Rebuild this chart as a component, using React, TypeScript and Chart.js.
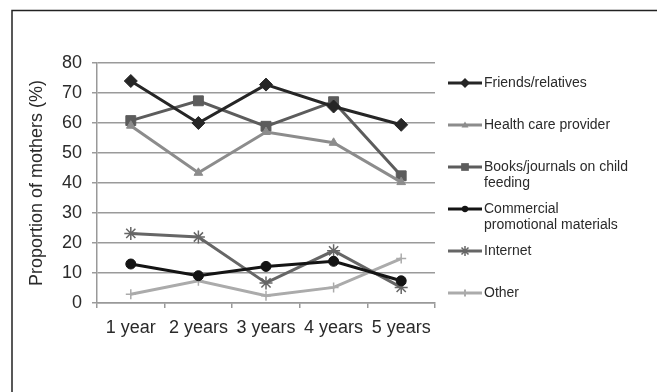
import React, { useEffect, useRef } from "react";
import { Chart, registerables } from "chart.js";

Chart.register(...registerables);

const categories = ["1 year", "2 years", "3 years", "4 years", "5 years"];
const friends = [74, 60, 72.8, 65.5, 59.4];
const healthCare = [59.1, 43.4, 57, 53.4, 40.3];
const books = [60.8, 67.4, 58.9, 67.1, 42.4];
const commercial = [13, 9.1, 12.2, 13.9, 7.4];
const internet = [23.2, 22, 6.7, 17.4, 5.2];
const other = [2.9, 7.4, 2.4, 5.2, 14.8];
const yTicks = [0, 10, 20, 30, 40, 50, 60, 70, 80];

const FONT = "'Liberation Sans', Arial, sans-serif";

const seriesDefs = [
  { label: ["Friends/relatives"], data: friends, color: "#262626", style: "rectRot", radius: 6.5 },
  { label: ["Health care provider"], data: healthCare, color: "#8c8c8c", style: "triangle", radius: 5 },
  { label: ["Books/journals on child", "feeding"], data: books, color: "#5c5c5c", style: "rect", radius: 7 },
  { label: ["Commercial", "promotional materials"], data: commercial, color: "#141414", style: "circle", radius: 5 },
  { label: ["Internet"], data: internet, color: "#666666", style: "star", radius: 6.5 },
  { label: ["Other"], data: other, color: "#ababab", style: "cross", radius: 5 },
];

function drawMarker(ctx: any, style: string, r: number, x: number, y: number, color: string) {
  ctx.save();
  ctx.fillStyle = color;
  ctx.strokeStyle = color;
  ctx.lineWidth = 2;
  ctx.beginPath();
  if (style === "rectRot") {
    ctx.moveTo(x, y - r);
    ctx.lineTo(x + r, y);
    ctx.lineTo(x, y + r);
    ctx.lineTo(x - r, y);
    ctx.closePath();
    ctx.fill();
  } else if (style === "triangle") {
    ctx.moveTo(x, y - r);
    ctx.lineTo(x + r, y + r * 0.7);
    ctx.lineTo(x - r, y + r * 0.7);
    ctx.closePath();
    ctx.fill();
  } else if (style === "rect") {
    const h = r * 0.7;
    ctx.fillRect(x - h, y - h, 2 * h, 2 * h);
  } else if (style === "circle") {
    ctx.arc(x, y, r * 0.9, 0, Math.PI * 2);
    ctx.fill();
  } else if (style === "star") {
    ctx.lineWidth = 1.5;
    ctx.moveTo(x - r, y);
    ctx.lineTo(x + r, y);
    ctx.moveTo(x, y - r);
    ctx.lineTo(x, y + r);
    const d = r * 0.7;
    ctx.moveTo(x - d, y - d);
    ctx.lineTo(x + d, y + d);
    ctx.moveTo(x - d, y + d);
    ctx.lineTo(x + d, y - d);
    ctx.stroke();
  } else {
    ctx.moveTo(x - r, y);
    ctx.lineTo(x + r, y);
    ctx.moveTo(x, y - r);
    ctx.lineTo(x, y + r);
    ctx.stroke();
  }
  ctx.restore();
}

const framePlugin = {
  id: "frameAndLegend",
  afterDraw(chart: any) {
    const ctx = chart.ctx;
    ctx.save();
    ctx.strokeStyle = "#222";
    ctx.lineWidth = 1.5;
    ctx.beginPath();
    ctx.moveTo(657, 10.5);
    ctx.lineTo(12, 10.5);
    ctx.lineTo(12, 392);
    ctx.stroke();
    const x0 = 448;
    const x1 = 482;
    seriesDefs.forEach((s, i) => {
      const y = 83 + i * 42;
      ctx.strokeStyle = s.color;
      ctx.lineWidth = 3;
      ctx.beginPath();
      ctx.moveTo(x0, y);
      ctx.lineTo(x1, y);
      ctx.stroke();
      drawMarker(ctx, s.style, s.radius - 1.5, (x0 + x1) / 2, y, s.color);
      ctx.fillStyle = "#2a2a2a";
      ctx.font = `14px ${FONT}`;
      ctx.textBaseline = "middle";
      ctx.textAlign = "left";
      s.label.forEach((t, j) => {
        ctx.fillText(t, x1 + 2, y + j * 16);
      });
    });
    ctx.restore();
  },
};

export default function App() {
  const ref = useRef<HTMLCanvasElement>(null);
  useEffect(() => {
    if (!ref.current) return;
    const chart = new Chart(ref.current, {
      type: "line",
      data: {
        labels: categories,
        datasets: seriesDefs.map((s) => ({
          label: s.label.join(" "),
          data: s.data,
          borderColor: s.color,
          backgroundColor: s.color,
          borderWidth: 3,
          pointStyle: s.style as any,
          pointRadius: s.radius,
          pointBorderWidth: s.style === "star" || s.style === "cross" ? 1.5 : 1,
          tension: 0,
          fill: false,
        })),
      },
      options: {
        animation: false,
        responsive: false,
        maintainAspectRatio: false,
        layout: { padding: { left: 14, top: 63, right: 222, bottom: 50 } },
        plugins: {
          legend: { display: false },
          tooltip: { enabled: false },
        },
        scales: {
          x: {
            type: "category",
            offset: true,
            grid: {
              offset: true,
              drawOnChartArea: false,
              drawTicks: true,
              tickLength: 5,
              color: "#999",
              lineWidth: 1.5,
            },
            border: { color: "#999", width: 1.5 },
            ticks: {
              font: { family: FONT, size: 18 },
              color: "#2a2a2a",
              padding: 9,
              maxRotation: 0,
              autoSkip: false,
            },
            afterFit: (scale: any) => {
              scale.height = 392 - 50 - 303;
            },
          },
          y: {
            min: 0,
            max: 80,
            afterBuildTicks: (scale: any) => {
              scale.ticks = yTicks.map((v) => ({ value: v }));
            },
            grid: {
              color: "#9a9a9a",
              lineWidth: 1.5,
              tickLength: 5,
            },
            border: { color: "#999", width: 1.5 },
            ticks: {
              font: { family: FONT, size: 18 },
              color: "#2a2a2a",
              padding: 10,
            },
            title: {
              display: true,
              text: "Proportion of mothers (%)",
              font: { family: FONT, size: 18 },
              color: "#2a2a2a",
              padding: { top: 12, bottom: 0 },
            },
            afterFit: (scale: any) => {
              scale.width = 97 - 14;
            },
          },
        },
      },
      plugins: [framePlugin],
    });
    return () => chart.destroy();
  }, []);
  return (
    <div style={{ position: "fixed", left: 0, top: 0, width: 657, height: 392, background: "#fff" }}>
      <canvas ref={ref} width={657} height={392} style={{ display: "block" }} />
    </div>
  );
}
